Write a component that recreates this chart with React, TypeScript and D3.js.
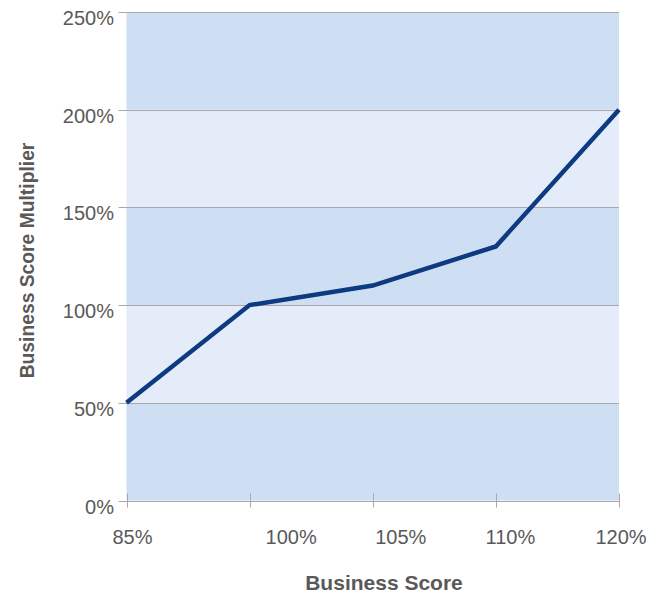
import React from "react";
import * as d3 from "d3";

// Business score bands and the multiplier paid at each
const scoreLabels: string[] = ["85%", "100%", "105%", "110%", "120%"];
const multiplierValues: number[] = [0.5, 1.0, 1.1, 1.3, 2.0];
const yTickValues: number[] = [0, 0.5, 1.0, 1.5, 2.0, 2.5];

// Layout
const WIDTH = 660;
const HEIGHT = 594;
const PLOT_LEFT = 126.5;
const PLOT_RIGHT = 619;
const PLOT_TOP = 12;
const PLOT_BOTTOM = 500.5;
// horizontal shift of each category label relative to its tick
const labelShift: number[] = [6, 41.5, 28, 14.5, 2];

const FONT = "'Liberation Sans', Arial, Helvetica, sans-serif";
const TEXT_COLOR = "#595959";
const GRID_COLOR = "#a9a9a9";
const BAND_DARK = "#cfdff3";
const BAND_LIGHT = "#e3ecf8";
const LINE_COLOR = "#0d3a80";

export default function App() {
  const x = d3.scalePoint<string>().domain(scoreLabels).range([PLOT_LEFT, PLOT_RIGHT]);
  const y = d3.scaleLinear().domain([0, 2.5]).range([PLOT_BOTTOM, PLOT_TOP]);
  const fmt = d3.format(".0%");

  const points: [number, number][] = scoreLabels.map((s, i) => [x(s) as number, y(multiplierValues[i])]);
  const linePath = d3.line().curve(d3.curveLinear)(points) || "";

  const bands = yTickValues.slice(0, -1).map((v, i) => ({
    y0: y(yTickValues[i + 1]),
    y1: y(v),
    fill: i % 2 === 0 ? BAND_DARK : BAND_LIGHT,
  }));

  return (
    <svg
      width={WIDTH}
      height={HEIGHT}
      style={{ position: "absolute", left: 0, top: 0, background: "#ffffff" }}
      fontFamily={FONT}
    >
      <rect x={0} y={0} width={WIDTH} height={HEIGHT} fill="#ffffff" />

      {/* alternating horizontal bands */}
      {bands.map((b, i) => (
        <rect
          key={"band" + i}
          x={PLOT_LEFT}
          y={b.y0}
          width={PLOT_RIGHT - PLOT_LEFT}
          height={b.y1 - b.y0}
          fill={b.fill}
        />
      ))}

      {/* gridlines with outward tick marks */}
      {yTickValues.map((v) => (
        <line
          key={"grid" + v}
          x1={PLOT_LEFT - 8}
          x2={PLOT_RIGHT}
          y1={Math.round(y(v)) + 0.5}
          y2={Math.round(y(v)) + 0.5}
          stroke={GRID_COLOR}
          strokeWidth={1}
        />
      ))}

      {/* category ticks on the bottom axis */}
      {scoreLabels.map((s) => (
        <line
          key={"xt" + s}
          x1={Math.round(x(s) as number) + 0.5}
          x2={Math.round(x(s) as number) + 0.5}
          y1={PLOT_BOTTOM - 7}
          y2={PLOT_BOTTOM + 7}
          stroke={GRID_COLOR}
          strokeWidth={1}
        />
      ))}

      {/* y tick labels */}
      {yTickValues.map((v) => (
        <text
          key={"yl" + v}
          x={114}
          y={y(v) + 13}
          textAnchor="end"
          fontSize={20}
          fill={TEXT_COLOR}
        >
          {fmt(v)}
        </text>
      ))}

      {/* x tick labels */}
      {scoreLabels.map((s, i) => (
        <text
          key={"xl" + s}
          x={(x(s) as number) + labelShift[i]}
          y={544}
          textAnchor="middle"
          fontSize={20}
          fill={TEXT_COLOR}
        >
          {s}
        </text>
      ))}

      {/* multiplier curve */}
      <path
        d={linePath}
        fill="none"
        stroke={LINE_COLOR}
        strokeWidth={4.5}
        strokeLinejoin="miter"
        strokeLinecap="butt"
      />

      {/* axis titles */}
      <text
        x={384}
        y={590}
        textAnchor="middle"
        fontSize={21}
        fontWeight="bold"
        fill={TEXT_COLOR}
      >
        Business Score
      </text>
      <text
        transform="translate(33.5, 260.5) rotate(-90)"
        textAnchor="middle"
        fontSize={19.3}
        fontWeight="bold"
        fill={TEXT_COLOR}
      >
        Business Score Multiplier
      </text>
    </svg>
  );
}
